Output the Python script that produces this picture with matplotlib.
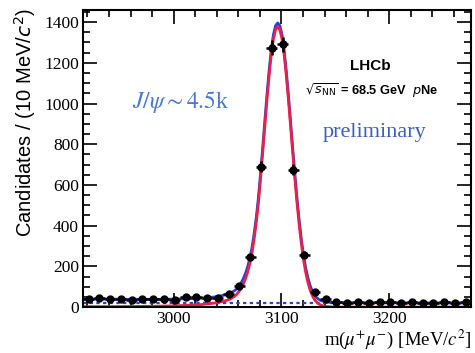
import matplotlib
matplotlib.use("Agg")
import matplotlib.pyplot as plt
from matplotlib.ticker import MultipleLocator
import numpy as np

# binned data, 10 MeV bins
mass_bins = [2921, 2931, 2941, 2951, 2961, 2971, 2981, 2991, 3001, 3011,
             3021, 3031, 3041, 3051, 3061, 3071, 3081, 3091, 3101, 3111,
             3121, 3131, 3141, 3151, 3161, 3171, 3181, 3191, 3201, 3211,
             3221, 3231, 3241, 3251, 3261, 3271]
counts = [40, 47, 40, 39, 36, 41, 39, 38, 35, 48,
          52, 45, 47, 62, 102, 245, 690, 1275, 1290, 675,
          258, 75, 42, 23, 22, 24, 21, 23, 25, 22,
          23, 21, 22, 23, 22, 24]

# fit curves
curve_x = [2916, 2950, 2980, 3000, 3016.5, 3026.5, 3036.5, 3040.5, 3044.5, 3048.5,
           3052.5, 3056.5, 3058.5, 3060.5, 3062.5, 3064.5, 3066.5, 3068.5, 3070.5, 3072.5,
           3074.5, 3076.5, 3078.5, 3080.5, 3082.5, 3084.5, 3086.5, 3088.5, 3090.5, 3092.5,
           3094.5, 3096.5, 3098.5, 3100.5, 3102.5, 3104.5, 3106.5, 3108.5, 3110.5, 3112.5,
           3114.5, 3116.5, 3118.5, 3120.5, 3122.5, 3124.5, 3126.5, 3128.5, 3130.5, 3132.5,
           3134.5, 3136.5, 3140.5, 3146.5, 3160, 3200, 3276]
signal = [2, 2.5, 4, 6, 10, 13, 19, 22, 27, 32,
          40, 53, 63, 76, 92, 112, 138, 170, 210, 262,
          330, 410, 507, 626, 754, 886, 1016, 1136, 1239, 1318,
          1362, 1378, 1362, 1318, 1239, 1136, 1016, 886, 754, 626,
          507, 401, 309, 232, 170, 122, 85, 58, 38, 25,
          16, 10, 3.4, 0.6, 0, 0, 0]
total = [40, 38.5, 38, 39, 42, 44, 49, 51.5, 56, 60.5,
         68, 80.5, 90, 103, 118.5, 138.5, 164, 196, 236, 287.5,
         355.5, 435.5, 532, 651, 779, 911, 1041, 1161, 1262, 1338,
         1382, 1396, 1382, 1338, 1260, 1158, 1038, 908, 776, 648,
         529, 423, 331, 254, 192, 144, 107, 80, 60, 47,
         38, 32, 26, 23, 22, 21, 20]
comb_x = [2916, 3276]
comb_y = [20, 20]

fig = plt.figure(figsize=(4.75, 3.53), dpi=100)
ax = fig.add_axes([0.175, 0.130, 0.817, 0.842])

ax.plot(comb_x, comb_y, color="#2b3fd6", lw=1.6, ls=(0, (1.5, 1.5)))
ax.plot(curve_x, total, color="#2b3fd6", lw=2.0)
ax.plot(curve_x, signal, color="#e8204a", lw=2.0)
ax.errorbar(mass_bins, counts, xerr=5, yerr=np.sqrt(counts), fmt="o",
            color="black", ms=5, elinewidth=1.8, capsize=0, zorder=5)

ax.set_xlim(2916, 3276)
ax.set_ylim(0, 1460)
ax.xaxis.set_major_locator(MultipleLocator(100))
ax.xaxis.set_minor_locator(MultipleLocator(20))
ax.yaxis.set_major_locator(MultipleLocator(200))
ax.yaxis.set_minor_locator(MultipleLocator(50))
ax.tick_params(which="both", direction="in", top=True, right=True, width=1.2)
ax.tick_params(which="major", length=10, labelsize=12.5, pad=3)
ax.tick_params(which="minor", length=5)
for lab in ax.get_xticklabels() + ax.get_yticklabels():
    lab.set_fontfamily("Liberation Serif")
for sp in ax.spines.values():
    sp.set_linewidth(1.5)

ax.set_xlabel(r"m($\mu^{+}\mu^{-}$) [MeV/$c^{2}$]", family="Liberation Serif",
              fontsize=13.5, loc="right", math_fontfamily="stix", labelpad=0)
ax.set_ylabel(r"Candidates / (10 MeV/$c^{2}$)", family="Liberation Sans",
              fontsize=14.5, math_fontfamily="dejavusans")
ax.yaxis.set_label_coords(-0.115, 0.62)

ax.text(0.74, 0.81, "LHCb", transform=ax.transAxes, family="Liberation Sans",
        weight="bold", fontsize=11, ha="center", va="center")
ax.text(0.572, 0.73, r"$\sqrt{s_{\mathrm{NN}}}$ = 68.5 GeV  $p$Ne", transform=ax.transAxes,
        family="Liberation Sans", weight="bold", fontsize=9.2, ha="left", va="center",
        math_fontfamily="dejavusans")
ax.text(0.75, 0.586, "preliminary", transform=ax.transAxes, family="Liberation Serif",
        fontsize=16, color="#3a5fc4", ha="center", va="center")
ax.text(0.25, 0.69, r"$J/\psi \sim 4.5$k", transform=ax.transAxes, family="Liberation Serif",
        fontsize=17, color="#4a78d6", ha="center", va="center", math_fontfamily="stix")

fig.savefig("out.png", dpi=100)
